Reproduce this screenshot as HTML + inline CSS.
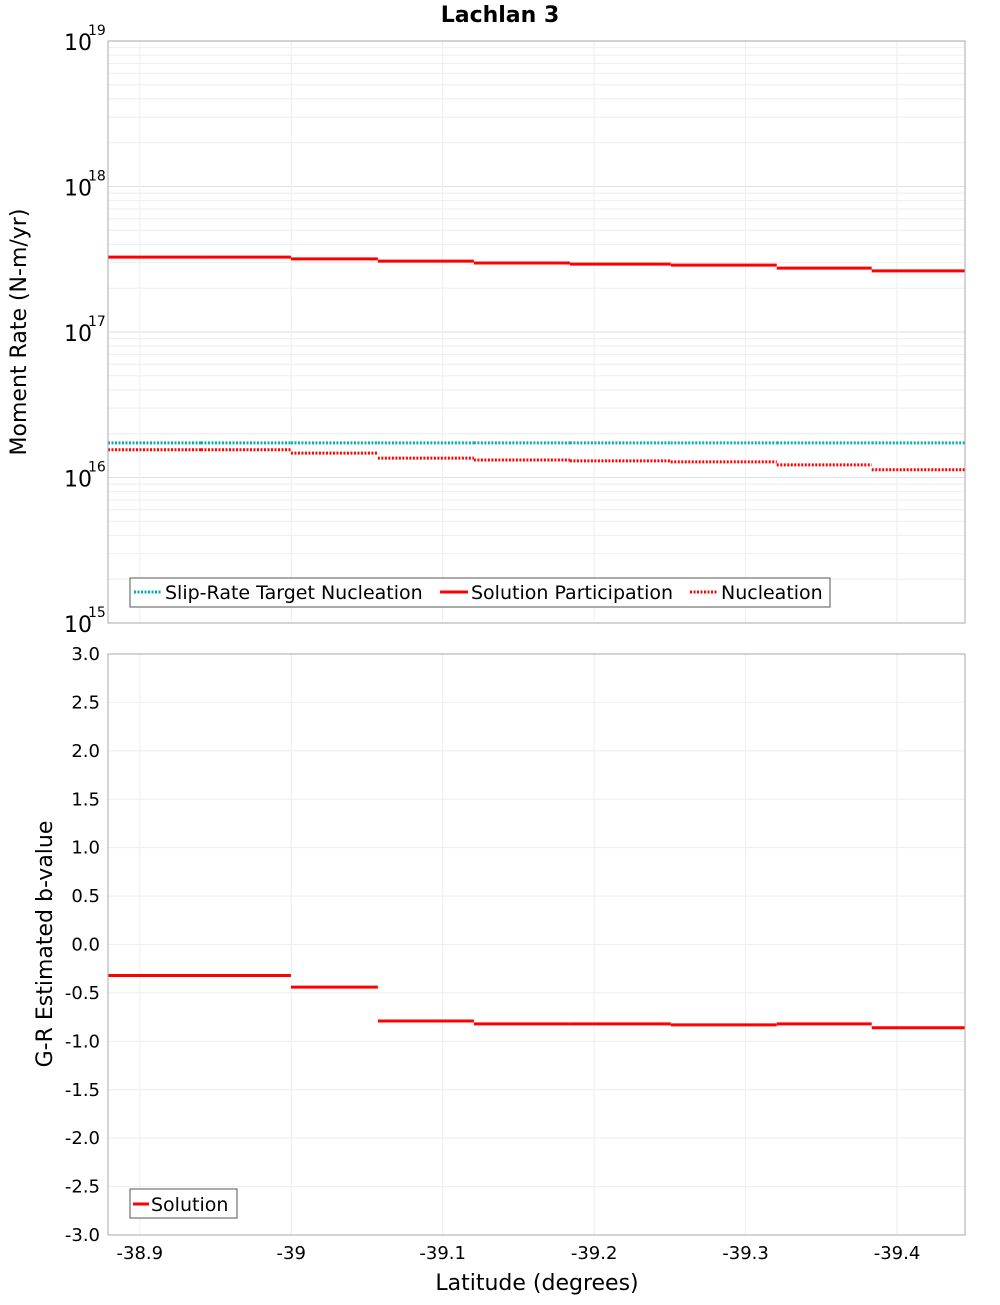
<!DOCTYPE html>
<html><head><meta charset="utf-8"><style>
body{margin:0;background:#fff;}
svg{font-family:"DejaVu Sans","Liberation Sans",sans-serif;}
</style></head><body>
<svg id="chart" width="1000" height="1300" viewBox="0 0 1000 1300" xmlns="http://www.w3.org/2000/svg">
<text x="500" y="22" text-anchor="middle" font-size="22" font-weight="bold">Lachlan 3</text>
<g id="topPlot"></g>
<g id="botPlot"></g>
</svg>
<script>
const binEdges=[-38.879,-38.9404,-38.9998,-39.0572,-39.1206,-39.184,-39.2506,-39.3206,-39.3833,-39.4447];
const participation=[3.27e17,3.27e17,3.18e17,3.07e17,2.98e17,2.93e17,2.88e17,2.75e17,2.63e17];
const targetNucleation=[1.73e16,1.73e16,1.73e16,1.73e16,1.73e16,1.73e16,1.73e16,1.73e16,1.73e16];
const nucleation=[1.55e16,1.55e16,1.47e16,1.36e16,1.32e16,1.30e16,1.28e16,1.22e16,1.13e16];
const bValues=[-0.32,-0.32,-0.44,-0.79,-0.82,-0.82,-0.83,-0.82,-0.86];
const xTicks=[-38.9,-39,-39.1,-39.2,-39.3,-39.4];
const xTickLabels=["-38.9","-39","-39.1","-39.2","-39.3","-39.4"];
const bTicks=[3,2.5,2,1.5,1,0.5,0,-0.5,-1,-1.5,-2,-2.5,-3];
const logTicks=[15,16,17,18,19];

const NS="http://www.w3.org/2000/svg";
const L=108,R=965,T1=41,B1=623,T2=654,B2=1235;
const xMin=-38.879,xMax=-39.4449;
const X=v=>L+(v-xMin)/(xMax-xMin)*(R-L);
const Y1=v=>B1-(Math.log10(v)-15)/4*(B1-T1);
const Y2=v=>B2-(v+3)/6*(B2-T2);
function el(tag,attrs,parent,text){const e=document.createElementNS(NS,tag);for(const k in attrs)e.setAttribute(k,attrs[k]);if(text!==undefined)e.textContent=text;parent.appendChild(e);return e;}
const topG=document.getElementById('topPlot'),botG=document.getElementById('botPlot');

for(let d=15;d<19;d++){for(let m=2;m<=9;m++){const y=Y1(m*Math.pow(10,d));
const g=el('line',{x1:L,x2:R,y1:y,y2:y,stroke:'#eeeeee','stroke-width':1},topG);

}}
logTicks.forEach(d=>{const y=Y1(Math.pow(10,d));
const g=el('line',{x1:L,x2:R,y1:y,y2:y,stroke:'#e2e2e2','stroke-width':1},topG);


const t=el('text',{x:64,y:y+9,'font-size':22},topG,'10');


const s=el('text',{x:88,y:y-6,'font-size':14},topG,String(d));

});
xTicks.forEach(v=>{const x=X(v);[[T1,B1,topG],[T2,B2,botG]].forEach(a=>{
const g=el('line',{x1:x,x2:x,y1:a[0],y2:a[1],stroke:'#eeeeee','stroke-width':1},a[2]);

});});
bTicks.forEach(v=>{const y=Y2(v);
const g=el('line',{x1:L,x2:R,y1:y,y2:y,stroke:'#eeeeee','stroke-width':1},botG);


const t=el('text',{x:100,y:y+6,'font-size':18,'text-anchor':'end'},botG,v.toFixed(1));

});
xTicks.forEach((v,i)=>{const t=el('text',{x:X(v),y:1259,'font-size':18,'text-anchor':'middle'},botG,xTickLabels[i]);

});

function steps(vals,yf,parent,color,dash,name){vals.forEach((v,i)=>{const y=yf(v);
const a={x1:X(binEdges[i]),x2:X(binEdges[i+1]),y1:y,y2:y,stroke:color,'stroke-width':3};
if(dash)a['stroke-dasharray']=dash;const s=el('line',a,parent);

});}
steps(targetNucleation,Y1,topG,'#00b0b0','2 1.5','target-nucleation-segment');
steps(nucleation,Y1,topG,'#ff0000','2 1.5','nucleation-segment');
steps(participation,Y1,topG,'#ff0000',null,'participation-segment');
steps(bValues,Y2,botG,'#ff0000',null,'b-value-segment');

[[T1,B1,topG],[T2,B2,botG]].forEach(a=>{const r=el('rect',{x:L,y:a[0],width:R-L,height:a[1]-a[0],fill:'none',stroke:'#aaaaaa'},a[2]);

});

let t=el('text',{transform:'translate(26,332) rotate(-90)','font-size':22,'text-anchor':'middle'},topG,'Moment Rate (N-m/yr)');


t=el('text',{transform:'translate(52,944) rotate(-90)','font-size':22,'text-anchor':'middle'},botG,'G-R Estimated b-value');


t=el('text',{x:537,y:1290,'font-size':22,'text-anchor':'middle'},botG,'Latitude (degrees)');



let lg=el('g',{},topG);


el('rect',{x:130,y:578,width:700,height:29,fill:'#fff',stroke:'#555'},lg);
const items=[['Slip-Rate Target Nucleation','#00b0b0','2 1.5',134],['Solution Participation','#ff0000',null,440],['Nucleation','#ff0000','2 1.5',690]];
items.forEach(it=>{const a={x1:it[3],x2:it[3]+28,y1:592,y2:592,stroke:it[1],'stroke-width':3};if(it[2])a['stroke-dasharray']=it[2];
const ln=el('line',a,lg);


const tx=el('text',{x:it[3]+31,y:599,'font-size':19},lg,it[0]);

});
lg=el('g',{},botG);


el('rect',{x:130,y:1189,width:107,height:29,fill:'#fff',stroke:'#555'},lg);
let ln=el('line',{x1:133,x2:149,y1:1204,y2:1204,stroke:'#ff0000','stroke-width':3},lg);


let tx=el('text',{x:151,y:1211,'font-size':19},lg,'Solution');


</script>
</body></html>
